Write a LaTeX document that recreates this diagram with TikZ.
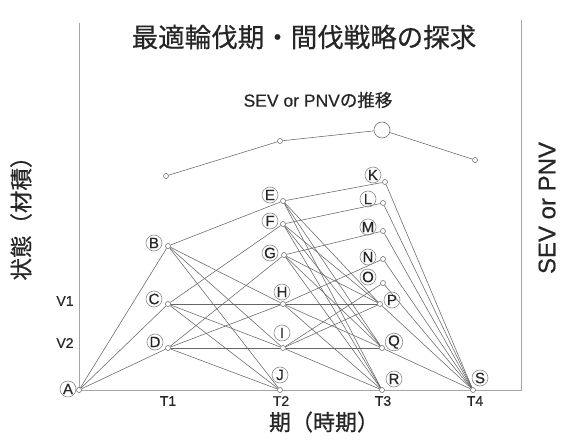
\documentclass[tikz,border=0pt]{standalone}
\usepackage{fontspec}
\setmainfont{Liberation Sans}[FakeBold=0.5]
\newfontfamily\jp{Noto Sans CJK JP}[FakeBold=0.6]
\usetikzlibrary{backgrounds}
\begin{document}
\begin{tikzpicture}[x=1pt,y=-1pt,
  pt/.style={circle,draw=black!55,fill=white,line width=0.6pt,inner sep=0pt,minimum size=5pt},
  bigpt/.style={pt,minimum size=16pt},
  lab/.style={circle,draw=black!45,line width=0.6pt,inner sep=0pt,minimum size=16pt,font=\fontsize{15}{15}\selectfont,text=black!85},
  edge/.style={draw=black!60,line width=0.55pt},
  axis/.style={draw=black!35,line width=1pt},
  tick/.style={font=\fontsize{14}{14}\selectfont,text=black!85}]
\useasboundingbox (0,0) rectangle (562,441);
% axes
\coordinate (ax1) at (79,23);
\coordinate (ax2) at (79,390);
\coordinate (ax3) at (521,390);
\coordinate (ax4) at (521,20);
\draw[axis] (ax1) -- (ax2) -- (ax3) -- (ax4);
% points
\node[pt] (A) at (79,390) {};
\node[pt] (B) at (168,246) {};
\node[pt] (C) at (168,304) {};
\node[pt] (D) at (168,348) {};
\node[pt] (E) at (283,201) {};
\node[pt] (F) at (283,224) {};
\node[pt] (G) at (284,255) {};
\node[pt] (H) at (283,304) {};
\node[pt] (I) at (283,348) {};
\node[pt] (J) at (280,390) {};
\node[pt] (K) at (385,182) {};
\node[pt] (L) at (383,203) {};
\node[pt] (M) at (383,231) {};
\node[pt] (N) at (383,259) {};
\node[pt] (O) at (383,283) {};
\node[pt] (P) at (380,304) {};
\node[pt] (Q) at (382,348) {};
\node[pt] (R) at (382,390) {};
\node[pt] (S) at (473,390) {};
% edges
\begin{scope}[on background layer]
\foreach \a/\b in {A/B,A/C,A/D,
  B/E,B/H,B/I,B/J, C/F,C/H,C/I,C/J, D/G,D/H,D/I,D/J,
  E/K,E/P,E/Q,E/R, F/L,F/P,F/Q,F/R, G/M,G/P,G/Q,G/R,
  H/N,H/P,H/Q,H/R, I/O,I/P,I/Q,I/R,
  K/S,L/S,M/S,N/S,O/S,P/S,Q/S}
  \draw[edge] (\a) -- (\b);
\end{scope}
% letter labels
\node[lab] (lA) at (68,389) {A};
\node[lab] (lB) at (154,243) {B};
\node[lab] (lC) at (154,299) {C};
\node[lab] (lD) at (155,342) {D};
\node[lab] (lE) at (270,195) {E};
\node[lab] (lF) at (270,221) {F};
\node[lab] (lG) at (270,253) {G};
\node[lab] (lH) at (282,292) {H};
\node[lab] (lI) at (282,333) {I};
\node[lab] (lJ) at (280,375) {J};
\node[lab] (lK) at (373,175) {K};
\node[lab] (lL) at (368,199) {L};
\node[lab] (lM) at (368,227) {M};
\node[lab] (lN) at (368,257) {N};
\node[lab] (lO) at (368,277) {O};
\node[lab] (lP) at (392,300) {P};
\node[lab] (lQ) at (394,342) {Q};
\node[lab] (lR) at (394,379) {R};
\node[lab] (lS) at (480,378) {S};
% SEV curve
\node[pt] (s1) at (166,176) {};
\node[pt] (s2) at (280,141) {};
\node[bigpt] (s3) at (382,130) {};
\node[pt] (s4) at (475,160) {};
\draw[edge] (s1) -- (s2) -- (s3) -- (s4);
% texts
\node[font=\jp\fontsize{26.5}{26.5}\selectfont,text=black!85] (title) at (304,37) {最適輪伐期・間伐戦略の探求};
\node[font=\fontsize{17.5}{17.5}\selectfont,text=black!85] (sev) at (318,100) {SEV or PNV{\jp の推移}};
\node[font=\jp\fontsize{22.5}{22.5}\selectfont,rotate=90,text=black!85] (ylab) at (21,213) {状態（材積）};
\node[font=\fontsize{24}{24}\selectfont,rotate=90,text=black!85] (y2lab) at (547,208) {SEV or PNV};
\node[font=\jp\fontsize{22}{22}\selectfont,text=black!85] (xlab) at (324,422) {期（時期）};
\node[tick] (v1) at (65,301) {V1};
\node[tick] (v2) at (65,343) {V2};
\node[tick] (t1) at (168,401) {T1};
\node[tick] (t2) at (281,401) {T2};
\node[tick] (t3) at (383,401) {T3};
\node[tick] (t4) at (475,401) {T4};
\end{tikzpicture}
\end{document}
